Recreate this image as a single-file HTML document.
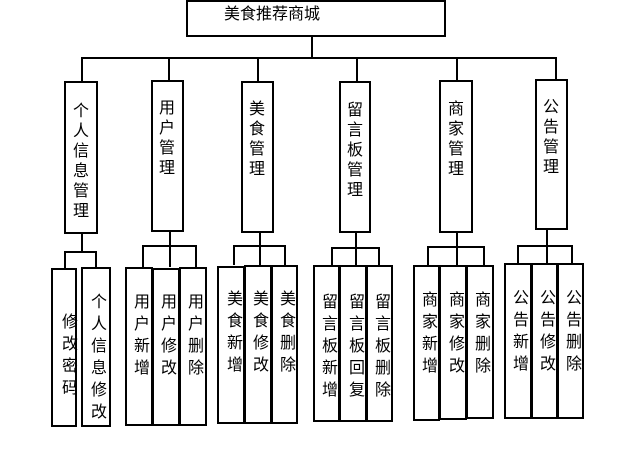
<!DOCTYPE html>
<html><head><meta charset="utf-8"><style>
body{margin:0;width:618px;height:471px;background:#fff;position:relative;overflow:hidden;font-family:"Liberation Sans","Noto Sans CJK SC",sans-serif;}
.b{position:absolute;border:2px solid #000;box-sizing:border-box;background:#fff;}
.l{position:absolute;background:#000;}
.t{position:absolute;width:16px;font-size:16px;line-height:20px;text-align:center;word-break:break-all;color:#000;}
.t2{line-height:22px;}
</style></head><body>
<div class="b" style="left:186px;top:0;width:260px;height:37px"></div>
<div style="position:absolute;left:224px;top:6px;font-size:16px;line-height:18px;">美食推荐商城</div>
<div class="l" style="left:311px;top:36px;width:2px;height:22px"></div>
<div class="l" style="left:81px;top:57px;width:476px;height:2px"></div>
<div class="l" style="left:81px;top:57px;width:2px;height:24px"></div>
<div class="l" style="left:168px;top:57px;width:2px;height:24px"></div>
<div class="l" style="left:257px;top:57px;width:2px;height:24px"></div>
<div class="l" style="left:356px;top:57px;width:2px;height:24px"></div>
<div class="l" style="left:456px;top:57px;width:2px;height:24px"></div>
<div class="l" style="left:555px;top:57px;width:2px;height:24px"></div>
<div class="b" style="left:64px;top:81px;width:34px;height:153px"></div><div class="t" style="left:73px;top:102px">个人信息管理</div>
<div class="b" style="left:151px;top:80px;width:33px;height:152px"></div><div class="t" style="left:159px;top:99px">用户管理</div>
<div class="b" style="left:241px;top:81px;width:33px;height:152px"></div><div class="t" style="left:249px;top:100px">美食管理</div>
<div class="b" style="left:339px;top:81px;width:32px;height:152px"></div><div class="t" style="left:347px;top:101px">留言板管理</div>
<div class="b" style="left:439px;top:80px;width:34px;height:153px"></div><div class="t" style="left:448px;top:100px">商家管理</div>
<div class="b" style="left:535px;top:79px;width:33px;height:151px"></div><div class="t" style="left:543px;top:98px">公告管理</div>
<div class="l" style="left:81px;top:233px;width:2px;height:19px"></div>
<div class="l" style="left:64px;top:251px;width:32px;height:2px"></div>
<div class="l" style="left:64px;top:251px;width:2px;height:17px"></div>
<div class="l" style="left:95px;top:251px;width:2px;height:17px"></div>
<div class="l" style="left:169px;top:231px;width:2px;height:36px"></div>
<div class="l" style="left:142px;top:245px;width:55px;height:2px"></div>
<div class="l" style="left:142px;top:245px;width:2px;height:22px"></div>
<div class="l" style="left:195px;top:245px;width:2px;height:22px"></div>
<div class="l" style="left:259px;top:232px;width:2px;height:33px"></div>
<div class="l" style="left:233px;top:245px;width:53px;height:2px"></div>
<div class="l" style="left:233px;top:245px;width:2px;height:20px"></div>
<div class="l" style="left:284px;top:245px;width:2px;height:20px"></div>
<div class="l" style="left:355px;top:232px;width:2px;height:33px"></div>
<div class="l" style="left:331px;top:247px;width:49px;height:2px"></div>
<div class="l" style="left:331px;top:247px;width:2px;height:18px"></div>
<div class="l" style="left:378px;top:247px;width:2px;height:18px"></div>
<div class="l" style="left:456px;top:232px;width:2px;height:33px"></div>
<div class="l" style="left:427px;top:246px;width:58px;height:2px"></div>
<div class="l" style="left:427px;top:246px;width:2px;height:19px"></div>
<div class="l" style="left:483px;top:246px;width:2px;height:19px"></div>
<div class="l" style="left:546px;top:229px;width:2px;height:34px"></div>
<div class="l" style="left:517px;top:245px;width:56px;height:2px"></div>
<div class="l" style="left:517px;top:245px;width:2px;height:18px"></div>
<div class="l" style="left:571px;top:245px;width:2px;height:18px"></div>
<div class="b" style="left:51px;top:268px;width:26px;height:159px"></div><div class="t t2" style="left:62px;top:312px">修改密码</div>
<div class="b" style="left:81px;top:267px;width:30px;height:160px"></div><div class="t t2" style="left:91px;top:292px">个人信息修改</div>
<div class="b" style="left:125px;top:267px;width:28px;height:159px"></div><div class="t t2" style="left:134px;top:292px">用户新增</div>
<div class="b" style="left:152px;top:268px;width:28px;height:158px"></div><div class="t t2" style="left:161px;top:292px">用户修改</div>
<div class="b" style="left:179px;top:267px;width:28px;height:159px"></div><div class="t t2" style="left:188px;top:292px">用户删除</div>
<div class="b" style="left:217px;top:266px;width:28px;height:158px"></div><div class="t t2" style="left:227px;top:289px">美食新增</div>
<div class="b" style="left:244px;top:265px;width:28px;height:159px"></div><div class="t t2" style="left:253px;top:289px">美食修改</div>
<div class="b" style="left:271px;top:265px;width:27px;height:159px"></div><div class="t t2" style="left:280px;top:289px">美食删除</div>
<div class="b" style="left:313px;top:265px;width:27px;height:157px"></div><div class="t t2" style="left:322px;top:292px">留言板新增</div>
<div class="b" style="left:339px;top:265px;width:28px;height:157px"></div><div class="t t2" style="left:349px;top:292px">留言板回复</div>
<div class="b" style="left:366px;top:265px;width:27px;height:157px"></div><div class="t t2" style="left:375px;top:292px">留言板删除</div>
<div class="b" style="left:413px;top:265px;width:27px;height:156px"></div><div class="t t2" style="left:422px;top:290px">商家新增</div>
<div class="b" style="left:439px;top:265px;width:28px;height:155px"></div><div class="t t2" style="left:449px;top:290px">商家修改</div>
<div class="b" style="left:466px;top:265px;width:28px;height:154px"></div><div class="t t2" style="left:475px;top:290px">商家删除</div>
<div class="b" style="left:504px;top:263px;width:28px;height:156px"></div><div class="t t2" style="left:513px;top:288px">公告新增</div>
<div class="b" style="left:531px;top:263px;width:27px;height:156px"></div><div class="t t2" style="left:540px;top:288px">公告修改</div>
<div class="b" style="left:557px;top:263px;width:27px;height:156px"></div><div class="t t2" style="left:566px;top:288px">公告删除</div>
</body></html>
